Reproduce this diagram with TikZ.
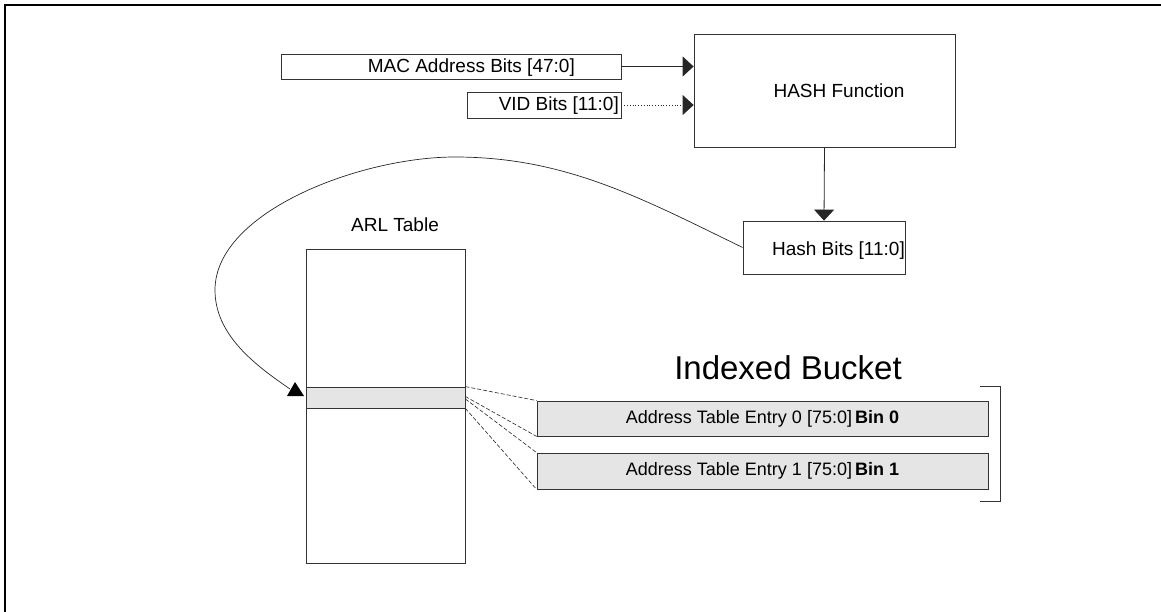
\documentclass[tikz,border=0pt]{standalone}
\usepackage{fontspec}
\setmainfont{Liberation Sans}
\usetikzlibrary{arrows.meta,calc}
\begin{document}
\begin{tikzpicture}[x=1pt,y=-1pt,
  box/.style={draw=black!80, line width=0.8pt, inner sep=0pt, rectangle},
  txt/.style={inner sep=0pt, font=\fontsize{19}{22}\selectfont},
  etxt/.style={inner sep=0pt, font=\fontsize{18}{22}\selectfont},
  arr/.style={draw=black!85, line width=0.8pt, -{Triangle[length=11pt,width=20pt]}},
  dashlink/.style={draw=black!85, line width=0.6pt, dash pattern=on 4pt off 2pt},
  graycell/.style={box, fill=black!10},
]
\useasboundingbox (0,0) rectangle (1161,612);
\draw[line width=2.5pt] (5,612) -- (5,5) -- (1161,5);

% boxes
\node[box, minimum width=340pt, minimum height=25pt] (mac) at (451,66.5) {};
\node[box, minimum width=154pt, minimum height=26pt] (vid) at (544,105) {};
\node[box, minimum width=261pt, minimum height=113pt] (hash) at (824.5,90.5) {};
\node[box, minimum width=162pt, minimum height=53pt] (hashbits) at (824,247.5) {};
\node[box, minimum width=159pt, minimum height=314pt] (table) at (385.5,406) {};
\node[graycell, minimum width=159pt, minimum height=21pt] (row) at (385.5,397.5) {};
\node[graycell, etxt, minimum width=451pt, minimum height=35pt] (e0) at (762.5,418.5) {Address Table Entry 0 [75:0]\,\textbf{Bin 0}};
\node[graycell, etxt, minimum width=451pt, minimum height=36pt] (e1) at (762.5,471) {Address Table Entry 1 [75:0]\,\textbf{Bin 1}};

% texts
\node[txt, anchor=base east] (mact) at (575,73) {MAC Address Bits [47:0]};
\node[txt, anchor=base east] (vidt) at (619,111) {VID Bits [11:0]};
\node[txt, anchor=base] (hasht) at (839,98) {HASH Function};
\node[txt, anchor=base east] (hbt) at (905,255) {Hash Bits [11:0]};
\node[txt, anchor=base] (arlt) at (395,232) {ARL Table};
\node[inner sep=0pt, anchor=base, font=\fontsize{33}{39}\selectfont] (ib) at (788,379) {Indexed Bucket};

% arrows
\draw[arr] (mac.east) -- (mac.east -| hash.west);
\draw[arr, dotted] (vid.east) -- (vid.east -| hash.west);
\draw[arr] (hash.south) -- (hashbits.north);

% curve to table row
\coordinate (arrin) at (290,389);
\draw[draw=black!85, line width=0.7pt] (hashbits.west) .. controls (641,198) and (565,157) .. (455,157)
  .. controls (360,157) and (215,212) .. (215,290)
  .. controls (215,335) and (255,365) .. (arrin);
\fill (295,382) -- (287,396) -- (304,396) -- cycle;

% dashed links
\draw[dashlink] (row.north east) -- (e0.north west);
\draw[dashlink] ($(row.east)+(0,-1)$) -- (e0.south west);
\draw[dashlink] ($(row.east)+(0,1.5)$) -- (e1.north west);
\draw[dashlink] (row.south east) -- (e1.south west);

% bracket
\draw[box] (980,386) -- (1000,386) -- (1000,501) -- (980,501);
\end{tikzpicture}
\end{document}
